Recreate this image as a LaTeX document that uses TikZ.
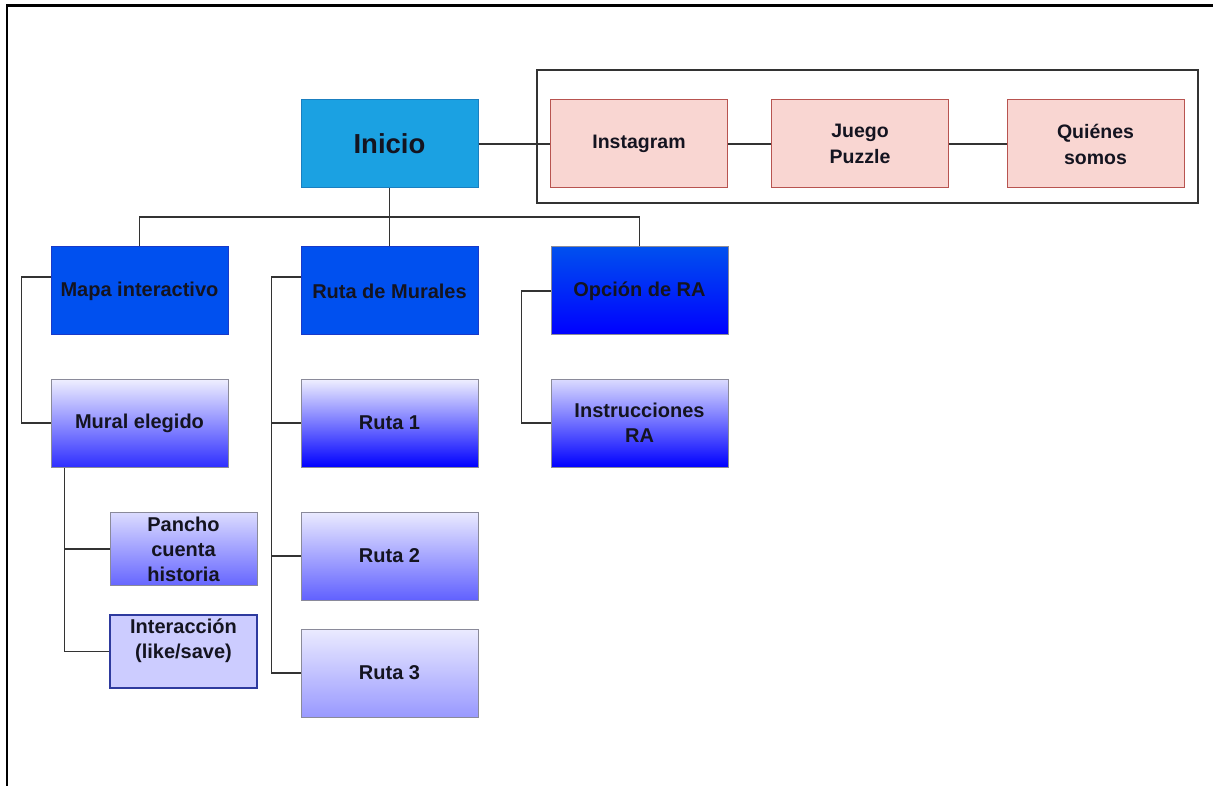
\documentclass[tikz,border=0pt]{standalone}
\usepackage{fontspec}
\setmainfont{Liberation Sans}
\definecolor{inifill}{HTML}{1BA1E2}
\definecolor{inidraw}{HTML}{1A7FC0}
\definecolor{cobalt}{HTML}{0050EF}
\definecolor{cobaltd}{HTML}{1A3AC8}
\definecolor{pinkfill}{HTML}{F9D6D2}
\definecolor{pinkdraw}{HTML}{B85450}
\definecolor{linec}{HTML}{333333}
\definecolor{txt}{HTML}{141420}
\definecolor{gbord}{HTML}{8A8A9A}
\definecolor{lav}{HTML}{CCCCFF}
\definecolor{lavd}{HTML}{2E3A9E}
\tikzset{
  box/.style={rectangle, minimum width=177pt, minimum height=88pt, inner sep=0pt,
    align=center, text=txt, font=\bfseries\fontsize{20}{25}\selectfont},
  smallbox/.style={box, minimum width=147pt, minimum height=73pt},
  pinkbox/.style={box, fill=pinkfill, draw=pinkdraw, line width=1pt,
    font=\bfseries\fontsize{19.5}{26}\selectfont},
  conn/.style={draw=linec, line width=1.9pt},
}
\begin{document}
\begin{tikzpicture}[x=1pt,y=-1pt]
\useasboundingbox (0,0) rectangle (1213,786);
% frame (top and left edges)
\draw[black, line width=2.5pt] (7,786) -- (7,5.5) -- (1213,5.5);
% group box
\draw[linec, line width=1.5pt] (537,70) rectangle (1198,203);
% nodes
\node[box, fill=inifill, draw=inidraw, line width=1pt, font=\bfseries\fontsize{27.5}{30}\selectfont] (ini) at (389.5,144) {Inicio};
\node[pinkbox] (insta) at (639,144) {Instagram};
\node[pinkbox] (juego) at (860,144) {Juego\\Puzzle};
\node[pinkbox] (quien) at (1095.5,144) {Quiénes\\somos};

\node[box, fill=cobalt, draw=cobaltd, line width=1pt] (mapa) at (139.5,291) {Mapa interactivo};
\node[box, fill=cobalt, draw=cobaltd, line width=1pt] (rdm) at (389.5,291) {Ruta de Murales};
\node[box, top color=cobalt, bottom color=blue, draw=gbord, line width=1pt] (opc) at (639.5,291) {Opción de RA};

\node[box, top color=white!94!blue, bottom color=blue!82!white, draw=gbord, line width=1pt] (mural) at (139.5,423) {Mural elegido};
\node[box, top color=white!94!blue, bottom color=blue, draw=gbord, line width=1pt] (r1) at (389.5,423) {Ruta 1};
\node[box, top color=white!86!blue, bottom color=blue, draw=gbord, line width=1pt] (instr) at (639.5,423) {Instrucciones\\RA};
\node[box, top color=white!92!blue, bottom color=blue!62!white, draw=gbord, line width=1pt] (r2) at (389.5,556) {Ruta 2};
\node[box, top color=white!92!blue, bottom color=blue!40!white, draw=gbord, line width=1pt] (r3) at (389.5,673) {Ruta 3};

\node[smallbox, top color=white!86!blue, bottom color=blue!60!white, draw=gbord, line width=1pt] (pancho) at (183.5,549) {Pancho\\cuenta\\historia};
\node[smallbox, fill=lav, draw=lavd, line width=1.2pt] (inter) at (183.5,651.5) {Interacción\\(like/save)\\\mbox{}};

% connectors
\draw[conn] (ini.east) -- (insta.west);
\draw[conn] (insta.east) -- (juego.west);
\draw[conn] (juego.east) -- (quien.west);

\coordinate (bus) at (389.5,217);
\draw[conn] (ini.south) -- (rdm.north);
\draw[conn] (bus) -| (mapa.north);
\draw[conn] (bus) -| (opc.north);

\draw[conn] ([yshift=14pt]mapa.west) -- ++(-29,0) |- (mural.west);
\draw[conn] ([xshift=14pt]mural.south west) |- (pancho.west);
\draw[conn] ([xshift=14pt]mural.south west) |- (inter.west);

\draw[conn] ([yshift=14pt]rdm.west) -- ++(-29,0) coordinate (rc) |- (r1.west);
\draw[conn] (rc) |- (r2.west);
\draw[conn] (rc) |- (r3.west);

\draw[conn] (opc.west) -- ++(-29,0) |- (instr.west);
\end{tikzpicture}
\end{document}
